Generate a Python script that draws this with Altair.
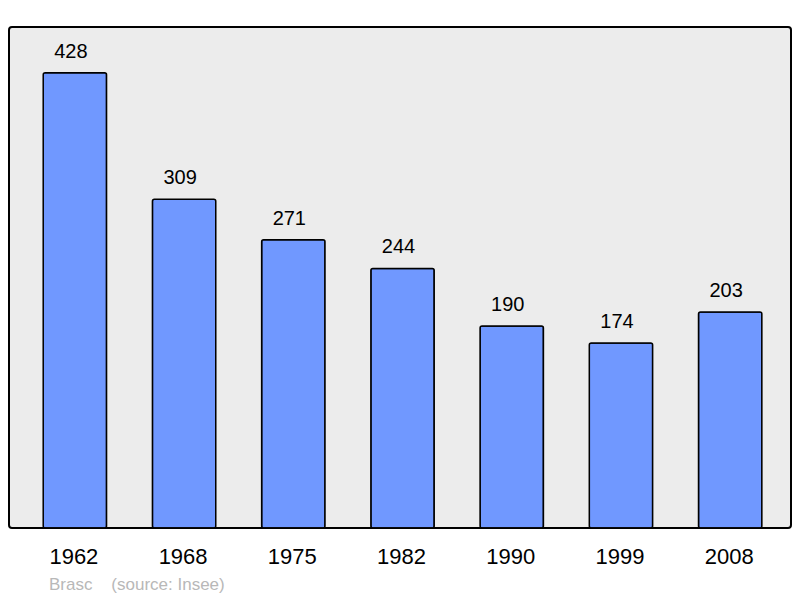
import altair as alt
import pandas as pd

years = ["1962", "1968", "1975", "1982", "1990", "1999", "2008"]
population = [428, 309, 271, 244, 190, 174, 203]

df = pd.DataFrame({"year": years, "pop": population})

FONT = "Liberation Sans"

x = alt.X("year:N", sort=years, title=None,
          scale=alt.Scale(paddingInner=0.42, paddingOuter=0.29, align=0.54),
          axis=alt.Axis(labelAngle=0, labelFontSize=22, labelColor="black",
                        labelFont=FONT, labelPadding=18, ticks=False, domain=False,
                        grid=False, labelOffset=-1))
y = alt.Y("pop:Q", title=None, axis=None,
          scale=alt.Scale(domain=[0, 471], nice=False, zero=True))

bars = alt.Chart(df).mark_bar(
    color="#7098ff", stroke="black", strokeWidth=1.5, cornerRadius=2
).encode(x=x, y=y)

labels = alt.Chart(df).mark_text(
    baseline="alphabetic", dy=-15, dx=-4, fontSize=20, font=FONT, color="black"
).encode(x=x, y=y, text="pop:Q")

chart = alt.layer(bars, labels).properties(
    width=782, height=501,
    padding={"left": 1, "top": 19, "right": 1, "bottom": 0},
    title=alt.TitleParams(
        text="Brasc\u00a0\u00a0\u00a0 (source: Insee)",
        orient="bottom", anchor="start", dx=40, offset=10,
        fontSize=17, font=FONT, fontWeight="normal", color="#b8b8b8"),
).configure_view(
    stroke="black", strokeWidth=2, fill="#ececec", cornerRadius=3
)

chart.save("out.html", embed_options={"renderer": "svg", "actions": False})
